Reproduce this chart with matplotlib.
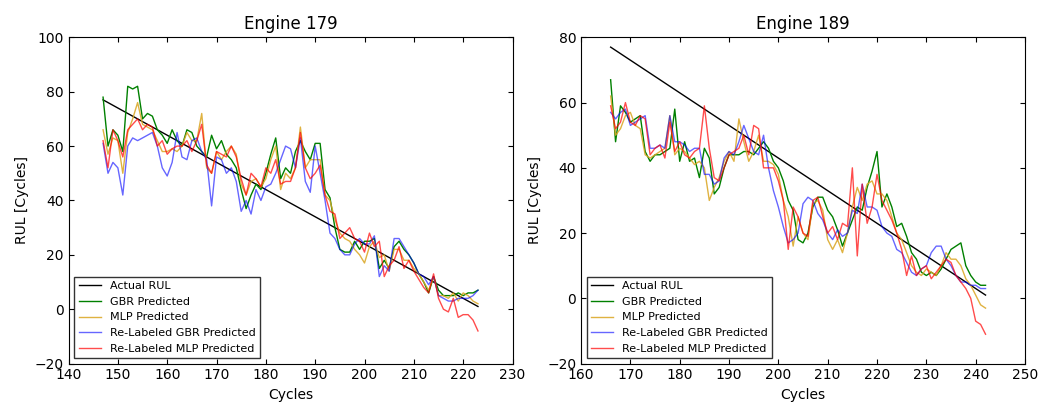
import numpy as np
import matplotlib.pyplot as plt

# Engine 179 (cycles start at 147)
e179_start = 147
e179_gbr = [78, 60, 66, 64, 58, 82, 81, 82, 70, 72, 71, 66, 64, 61, 66, 62, 60, 66, 65, 60,
            58, 56, 64, 59, 62, 57, 55, 52, 44, 37, 42, 46, 44, 50, 57, 63, 48, 52, 50, 58,
            62, 58, 55, 61, 61, 44, 41, 30, 22, 21, 21, 25, 22, 25, 25, 26, 15, 18, 15, 23,
            25, 22, 20, 17, 13, 10, 6, 12, 7, 5, 5, 5, 6, 5, 6, 6, 7]
e179_mlp = [66, 57, 63, 62, 50, 65, 70, 76, 68, 67, 66, 62, 58, 58, 59, 58, 60, 65, 62, 62,
            72, 52, 50, 58, 55, 58, 60, 57, 46, 42, 47, 48, 45, 48, 55, 60, 44, 50, 48, 52,
            67, 52, 55, 55, 55, 42, 40, 33, 28, 26, 25, 22, 20, 17, 23, 25, 19, 20, 14, 22,
            22, 18, 18, 15, 13, 10, 7, 12, 5, 5, 4, 6, 3, 6, 5, 3, 2]
e179_rgbr = [61, 50, 54, 52, 42, 60, 63, 62, 63, 64, 65, 60, 52, 49, 54, 65, 56, 55, 62, 63,
             58, 55, 38, 56, 55, 50, 52, 47, 36, 40, 35, 44, 40, 45, 46, 50, 55, 60, 59, 52,
             63, 47, 43, 60, 50, 40, 28, 26, 22, 20, 20, 24, 26, 24, 24, 27, 12, 16, 14, 26,
             26, 23, 20, 17, 13, 12, 9, 12, 5, 4, 3, 3, 4, 4, 4, 5, 7]
e179_rmlp = [62, 52, 66, 62, 56, 66, 68, 70, 66, 68, 67, 60, 62, 57, 59, 60, 60, 62, 58, 62,
             68, 53, 50, 58, 57, 56, 60, 56, 48, 42, 50, 48, 45, 52, 50, 55, 46, 47, 47, 52,
             65, 52, 48, 50, 53, 42, 36, 35, 26, 28, 30, 26, 25, 21, 28, 23, 25, 12, 16, 18,
             23, 15, 18, 14, 11, 8, 6, 13, 4, 0, -1, 4, -3, -2, -2, -4, -8]

# Engine 189 (cycles start at 166)
e189_start = 166
e189_gbr = [67, 48, 59, 57, 54, 55, 56, 45, 42, 44, 44, 45, 46, 58, 42, 48, 42, 43, 37, 46,
            43, 32, 34, 40, 44, 44, 44, 45, 45, 44, 46, 48, 46, 42, 40, 36, 30, 27, 18, 17,
            20, 28, 31, 31, 27, 25, 21, 16, 20, 24, 28, 27, 34, 39, 45, 28, 32, 28, 22, 23,
            19, 14, 12, 8, 7, 8, 7, 9, 12, 15, 16, 17, 10, 7, 5, 4, 4]
e189_mlp = [62, 50, 52, 56, 57, 53, 52, 44, 43, 44, 45, 46, 56, 44, 46, 45, 43, 41, 42, 40,
            30, 34, 37, 42, 45, 42, 55, 48, 42, 45, 50, 42, 42, 41, 38, 30, 25, 16, 25, 20,
            18, 29, 30, 27, 18, 15, 18, 14, 20, 28, 34, 30, 35, 36, 32, 32, 30, 25, 20, 18,
            14, 10, 8, 7, 9, 8, 7, 10, 14, 12, 12, 10, 6, 4, 1, -2, -3]
e189_rgbr = [57, 55, 57, 58, 53, 54, 55, 56, 46, 46, 47, 46, 56, 48, 48, 47, 45, 46, 46, 38,
             38, 35, 36, 43, 45, 44, 48, 53, 49, 45, 44, 50, 40, 33, 28, 22, 17, 18, 20, 29,
             31, 30, 26, 24, 20, 18, 21, 19, 20, 27, 26, 35, 28, 28, 27, 22, 20, 19, 15, 14,
             11, 8, 7, 9, 10, 14, 16, 16, 12, 10, 7, 5, 5, 4, 4, 3, 3]
e189_rmlp = [59, 52, 54, 60, 54, 53, 56, 55, 44, 46, 47, 43, 54, 45, 48, 44, 43, 45, 46, 59,
             46, 37, 36, 40, 44, 45, 46, 50, 44, 53, 52, 40, 40, 40, 36, 30, 15, 28, 25, 20,
             19, 30, 31, 25, 20, 22, 18, 23, 22, 40, 13, 35, 23, 28, 38, 30, 27, 24, 20, 15,
             7, 13, 7, 9, 10, 6, 8, 10, 12, 11, 7, 5, 3, 0, -7, -8, -11]

actual_start = 77

engines = [
    ('Engine 179', e179_start, [e179_gbr, e179_mlp, e179_rgbr, e179_rmlp], (140, 230), (-20, 100)),
    ('Engine 189', e189_start, [e189_gbr, e189_mlp, e189_rgbr, e189_rmlp], (160, 250), (-20, 80)),
]
labels = ['GBR Predicted', 'MLP Predicted', 'Re-Labeled GBR Predicted', 'Re-Labeled MLP Predicted']
colors = [('green', 1.0), ('#DAA520', 0.85), ('blue', 0.6), ('red', 0.7)]

fig, axes = plt.subplots(1, 2, figsize=(10.4, 4.17), dpi=100)
for ax, (title, start, series, xl, yl) in zip(axes, engines):
    n = len(series[0])
    x = np.arange(start, start + n)
    ax.plot(x, actual_start - (x - start), color='black', lw=1, label='Actual RUL')
    for s, lab, (c, a) in zip(series, labels, colors):
        xs = np.arange(start, start + len(s))
        ax.plot(xs, s, color=c, alpha=a, lw=1, label=lab)
    ax.set_xlim(*xl)
    ax.set_ylim(*yl)
    ax.set_title(title)
    ax.set_xlabel('Cycles')
    ax.set_ylabel('RUL [Cycles]')
    ax.tick_params(direction='in', top=True, right=True)
    ax.legend(loc='lower left', fontsize=8, fancybox=False, edgecolor='black')

plt.tight_layout()
plt.savefig('out.png')
